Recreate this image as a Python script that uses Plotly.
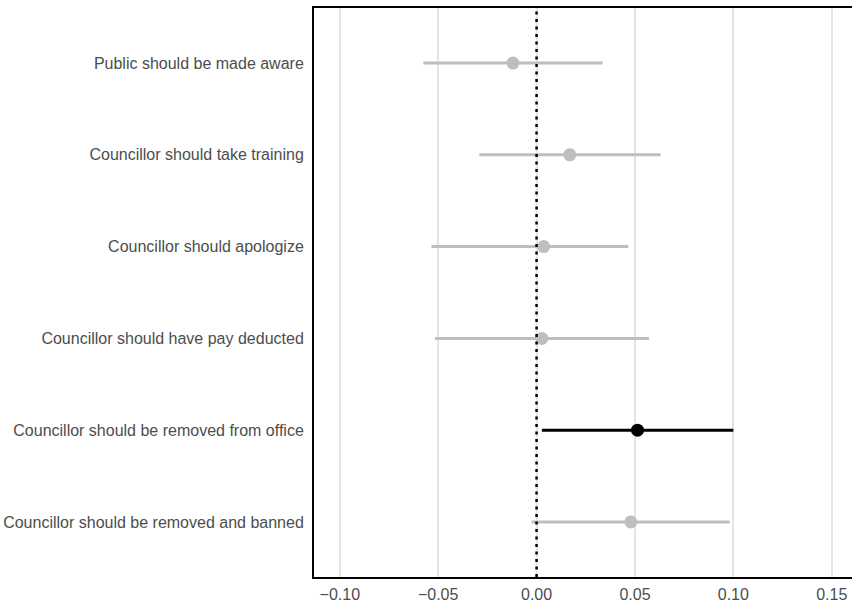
import plotly.graph_objects as go

categories = [
    "Public should be made aware",
    "Councillor should take training",
    "Councillor should apologize",
    "Councillor should have pay deducted",
    "Councillor should be removed from office",
    "Councillor should be removed and banned",
]
estimates = [-0.0120, 0.0169, 0.0036, 0.0027, 0.0513, 0.0479]
ci_low = [-0.0575, -0.0291, -0.0534, -0.0516, 0.0027, -0.0025]
ci_high = [0.0336, 0.0630, 0.0466, 0.0571, 0.1000, 0.0982]
significant = [False, False, False, False, True, False]
x_ticks = [-0.10, -0.05, 0.00, 0.05, 0.10, 0.15]

GREY = "#bebebe"
BLACK = "#000000"

fig = go.Figure()

for cat, est, lo, hi, sig in zip(categories, estimates, ci_low, ci_high, significant):
    col = BLACK if sig else GREY
    fig.add_trace(go.Scatter(
        x=[lo, hi], y=[cat, cat], mode="lines",
        line=dict(color=col, width=3), showlegend=False, hoverinfo="skip",
    ))
    fig.add_trace(go.Scatter(
        x=[est], y=[cat], mode="markers",
        marker=dict(color=col, size=13, line=dict(width=0)), showlegend=False,
    ))

fig.add_shape(type="line", xref="x", yref="paper", x0=0, x1=0, y0=0, y1=1,
              line=dict(color="black", width=2.5, dash="3px,4.5px"), layer="above")

fig.update_layout(
    width=852, height=602,
    margin=dict(l=314, r=0, t=8, b=25),
    paper_bgcolor="white", plot_bgcolor="white",
    font=dict(family="Liberation Sans, Arial, sans-serif", size=16, color="#4d4d4d"),
)
fig.update_xaxes(
    range=[-0.1131, 0.1603], tickvals=x_ticks, tickformat=".2f",
    showgrid=True, gridcolor="#e5e5e5", gridwidth=2,
    showline=True, linecolor="black", linewidth=2, mirror=True,
    zeroline=False, ticks="", ticklabelstandoff=2,
    tickfont=dict(size=16, color="#4d4d4d"),
)
fig.update_yaxes(
    type="category", categoryorder="array", categoryarray=categories,
    range=[5.6, -0.6], showgrid=False,
    showline=True, linecolor="black", linewidth=2, mirror=False,
    zeroline=False, ticks="", ticklabelstandoff=5,
    tickfont=dict(size=16, color="#4d4d4d"),
)

fig.write_html(
    "out.html",
    config={"displayModeBar": False},
    post_script="document.body.style.margin='0';document.body.style.overflow='hidden';",
)
